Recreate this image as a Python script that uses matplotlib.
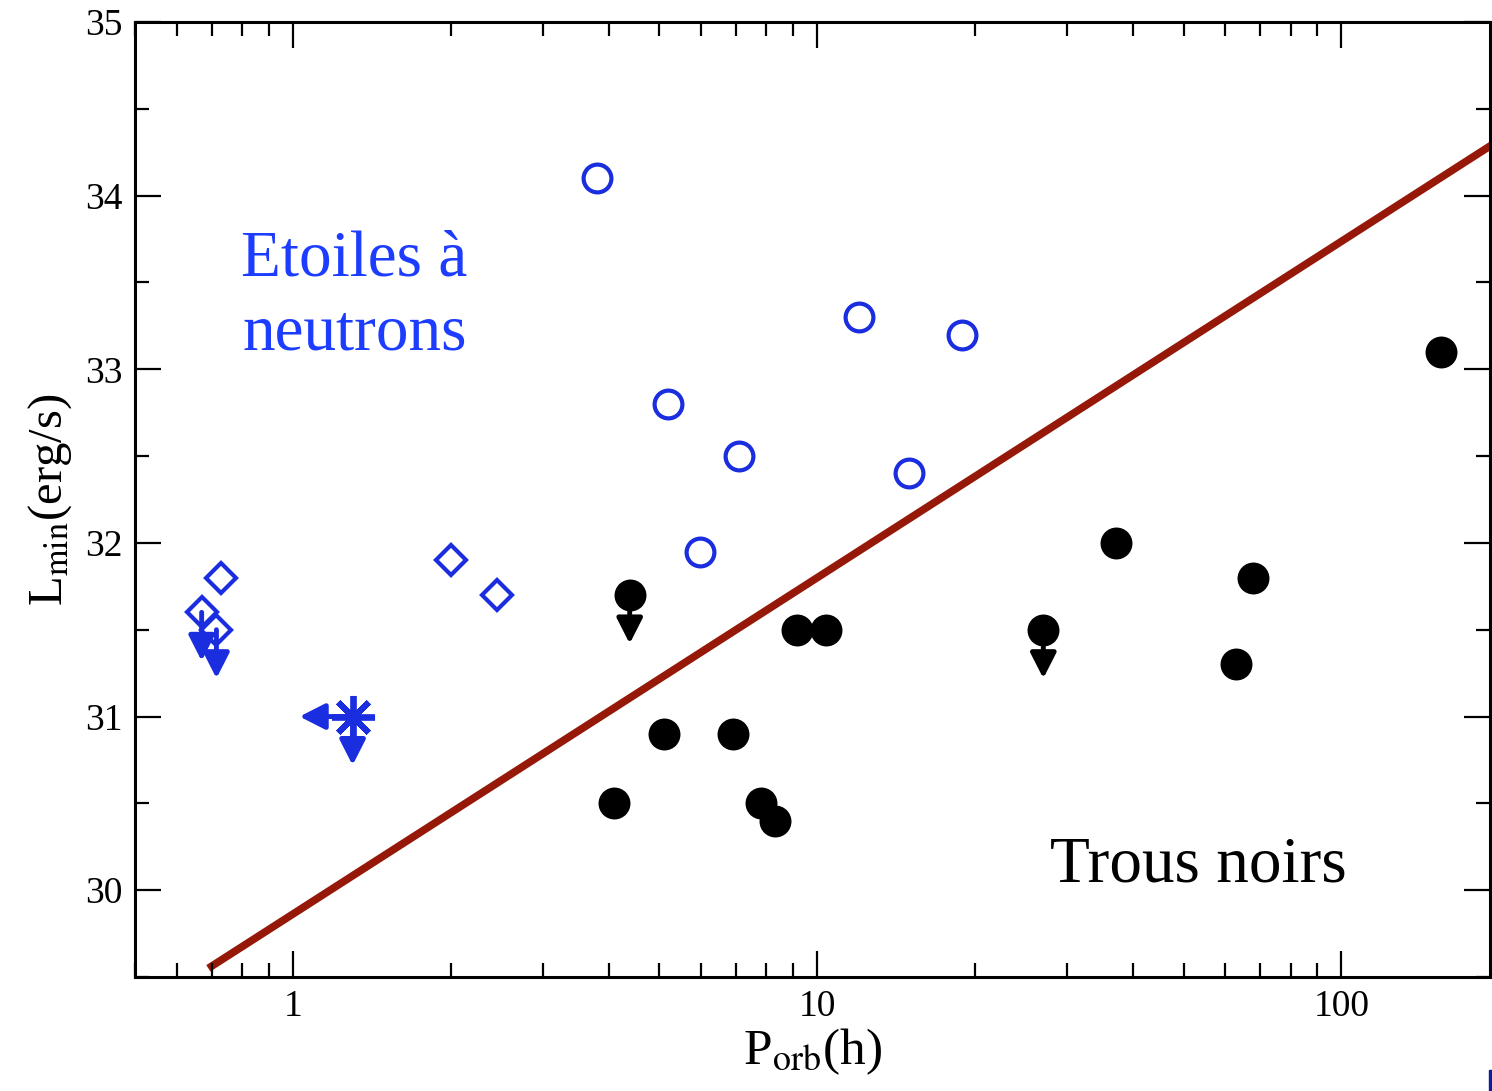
import matplotlib
matplotlib.use("Agg")
import matplotlib.pyplot as plt
from matplotlib.ticker import LogLocator, MultipleLocator, FixedLocator, FixedFormatter
from matplotlib.patches import Rectangle

plt.rcParams['font.family'] = ['Liberation Serif', 'DejaVu Serif']
plt.rcParams['mathtext.fontset'] = 'stix'

# etoiles a neutrons : cercles ouverts
ns_circ_p = [3.81, 5.19, 7.08, 5.97, 12.0, 18.9, 15.0]
ns_circ_l = [34.1, 32.8, 32.5, 31.95, 33.3, 33.2, 32.4]

# etoiles a neutrons : losanges (certains sont des limites sup.)
ns_diam_p = [0.73, 0.67, 0.715, 2.0, 2.45]
ns_diam_l = [31.8, 31.6, 31.5, 31.9, 31.7]
ns_diam_ul = [False, True, True, False, False]

# asterisque : limite sup. en L et en P
ns_star_p = [1.30]
ns_star_l = [31.0]
ns_star_p_lim = [1.03]

# trous noirs
bh_p = [4.39, 4.09, 5.10, 6.90, 7.80, 8.30, 9.14, 10.38, 27.0, 37.1, 67.7, 62.8, 155.0]
bh_l = [31.7, 30.5, 30.9, 30.9, 30.5, 30.4, 31.5, 31.5, 31.5, 32.0, 31.8, 31.3, 33.1]
bh_ul = [True, False, False, False, False, False, False, False, True, False, False, False, False]

# separation
sep_p = [0.69, 200.0]
sep_l = [29.55, 34.32]

xticks = [1, 10, 100]
xtick_labels = ['1', '10', '100']
yticks = [30, 31, 32, 33, 34, 35]

blue = '#1a2ee0'
dark_red = '#961808'
ul_len = 0.28

W, H = 1492, 1091
fig = plt.figure(figsize=(W / 100, H / 100), dpi=100)
ax = fig.add_axes([135 / W, (H - 977) / H, (1490 - 135) / W, (977 - 22) / H])


def fleche(x0, y0, x1, y1, c):
    ax.annotate('', xy=(x1, y1), xytext=(x0, y0), zorder=2,
                arrowprops=dict(arrowstyle='-|>,head_length=0.55,head_width=0.28',
                                lw=3.5, color=c, mutation_scale=28,
                                shrinkA=0, shrinkB=0))


ax.plot(sep_p, sep_l, color=dark_red, lw=5.5, solid_capstyle='butt', zorder=1)

ax.plot(ns_circ_p, ns_circ_l, 'o', ms=20, mfc='none', mec=blue, mew=3, zorder=3)
ax.plot(ns_diam_p, ns_diam_l, 'D', ms=15.5, mfc='none', mec=blue, mew=3, zorder=3)
for p, l, ul in zip(ns_diam_p, ns_diam_l, ns_diam_ul):
    if ul:
        fleche(p, l, p, l - ul_len, blue)

ax.plot(ns_star_p, ns_star_l, marker=(8, 2, 0), ls='none', ms=31, mec=blue, mew=4.2, zorder=3)
for p, l, pl in zip(ns_star_p, ns_star_l, ns_star_p_lim):
    fleche(p, l, p, l - ul_len, blue)
    fleche(p, l, pl, l, blue)

ax.plot(bh_p, bh_l, 'o', ms=23, mfc='black', mec='black', mew=0, zorder=3)
for p, l, ul in zip(bh_p, bh_l, bh_ul):
    if ul:
        fleche(p, l, p, l - ul_len, 'black')

ax.set_xscale('log')
ax.set_xlim(0.5, 192)
ax.set_ylim(29.5, 35)

ax.xaxis.set_major_locator(FixedLocator(xticks))
ax.xaxis.set_major_formatter(FixedFormatter(xtick_labels))
ax.xaxis.set_minor_locator(LogLocator(base=10, subs=range(2, 10)))
ax.xaxis.set_minor_formatter(FixedFormatter([]))
ax.yaxis.set_major_locator(FixedLocator(yticks))
ax.yaxis.set_minor_locator(MultipleLocator(0.5))

ax.tick_params(which='both', direction='in', top=True, right=True, width=1.6, labelsize=27)
ax.tick_params(which='major', length=19, pad=9)
ax.tick_params(which='minor', length=10)
for s in ax.spines.values():
    s.set_linewidth(2.2)

ax.set_xlabel(r'P$_{\rm orb}$(h)', fontsize=37, labelpad=2)
ax.set_ylabel(r'L$_{\rm min}$(erg/s)', fontsize=35, labelpad=8)

ax.text(0.162, 0.712, 'Etoiles à\nneutrons', transform=ax.transAxes, color='#1c3cff',
        fontsize=47, ha='center', va='center', linespacing=1.32)
ax.text(0.785, 0.116, 'Trous noirs', transform=ax.transAxes, color='black',
        fontsize=47, ha='center', va='center')

fig.patches.append(Rectangle((1489 / W, 0), 3 / W, 21 / H, transform=fig.transFigure,
                             color='#0c1c9c', zorder=5))

fig.savefig('out.png', dpi=100)
